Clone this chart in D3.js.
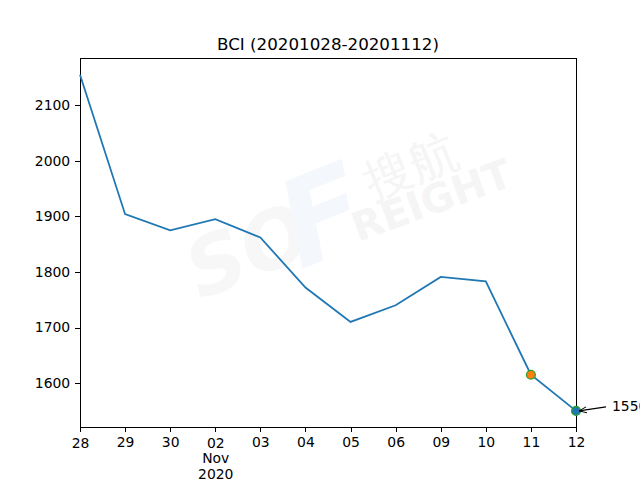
<!DOCTYPE html>
<html><head><meta charset="utf-8">
<script src="https://cdn.jsdelivr.net/npm/d3@7"></script>
<style>body{margin:0;background:#fff}svg{display:block}text{font-family:"DejaVu Sans",sans-serif}</style>
</head><body>
<svg id="c" width="640" height="480"></svg>
<script>
const categories = ["28","29","30","02","03","04","05","06","09","10","11","12"];
const values = [2155,1904,1875,1895,1862,1772,1710,1740,1791,1783,1615,1550];
const yTicks = [1600,1700,1800,1900,2000,2100];
const title = "BCI (20201028-20201112)";
const majorExtra = {"02":["Nov","2020"]};
const annotation = "1550";

const svg = d3.select("#c");
const L=80,R=576,T=58,B=427;
const x = d3.scalePoint().domain(categories).range([L,R]);
const y = d3.scaleLinear().domain([1521,2185]).range([B,T]);

// watermark (very faint)
svg.append("text").attr("transform","translate(200,300) rotate(-22)").attr("font-size",80).attr("font-weight","bold").attr("font-style","italic").attr("fill","#f7f7f7").text("SO");
svg.append("text").attr("transform","translate(300,270) rotate(-22)").attr("font-size",120).attr("font-weight","bold").attr("font-style","italic").attr("fill","#f4f8fc").text("F");
svg.append("text").attr("transform","translate(372,200) rotate(-22)").attr("font-size",48).attr("fill","#f5f5f5").text("搜航");
svg.append("text").attr("transform","translate(358,242) rotate(-20)").attr("font-size",40).attr("font-weight","bold").attr("fill","#f5f5f5").text("REIGHT");

// axes
const gy = svg.append("g").attr("transform",`translate(${L},0)`).call(d3.axisLeft(y).tickValues(yTicks).tickSize(4.9).tickPadding(4.9).tickFormat(d3.format("d")));
const gx = svg.append("g").attr("transform",`translate(0,${B})`).call(d3.axisBottom(x).tickSize(4.9).tickPadding(4.9));
[gx,gy].forEach(g=>{g.select(".domain").remove();g.selectAll("line").attr("stroke","#000").attr("stroke-width",1).attr("shape-rendering","crispEdges");g.selectAll("text").attr("font-size",13.9).attr("fill","#000").attr("font-family","DejaVu Sans");});
gx.selectAll(".tick text").each(function(d){
  const t=d3.select(this);
  if(d==="28"||majorExtra[d]) t.attr("y",11);
  if(majorExtra[d]){majorExtra[d].forEach((s,i)=>t.append("tspan").attr("x",0).attr("dy","1.12em").text(s));}
});

svg.append("rect").attr("x",L).attr("y",T).attr("width",R-L).attr("height",B-T).attr("fill","none").attr("stroke","#000").attr("stroke-width",1).attr("shape-rendering","crispEdges");

const line = d3.line().x((d,i)=>x(categories[i])).y(d=>y(d));
svg.append("path").datum(values).attr("d",line).attr("fill","none").attr("stroke","#1f77b4").attr("stroke-width",1.8);

// markers
const n=values.length;
svg.append("circle").attr("cx",x(categories[n-2])).attr("cy",y(values[n-2])).attr("r",4.4).attr("fill","#ff7f0e").attr("stroke","#2ca02c").attr("stroke-width",1.3);
svg.append("circle").attr("cx",x(categories[n-1])).attr("cy",y(values[n-1])).attr("r",4.4).attr("fill","#1f77b4").attr("stroke","#2ca02c").attr("stroke-width",1.3);

// annotation
const px=x(categories[n-1]), py=y(values[n-1]);
svg.append("defs").append("marker").attr("id","ah").attr("viewBox","0 0 10 10").attr("refX",10).attr("refY",5).attr("markerWidth",8).attr("markerHeight",8).attr("markerUnits","userSpaceOnUse").attr("orient","auto")
  .append("path").attr("d","M0,1 L10,5 L0,9").attr("fill","none").attr("stroke","#000").attr("stroke-width",1.2);
svg.append("line").attr("x1",px+30).attr("y1",py-4).attr("x2",px+3).attr("y2",py).attr("stroke","#000").attr("stroke-width",1.2).attr("marker-end","url(#ah)");
svg.append("text").attr("x",px+36).attr("y",py).attr("font-size",13.9).attr("fill","#000").text(annotation);

svg.append("text").attr("x",(L+R)/2).attr("y",50).attr("text-anchor","middle").attr("font-size",16.7).attr("fill","#000").text(title);
</script>
</body></html>
